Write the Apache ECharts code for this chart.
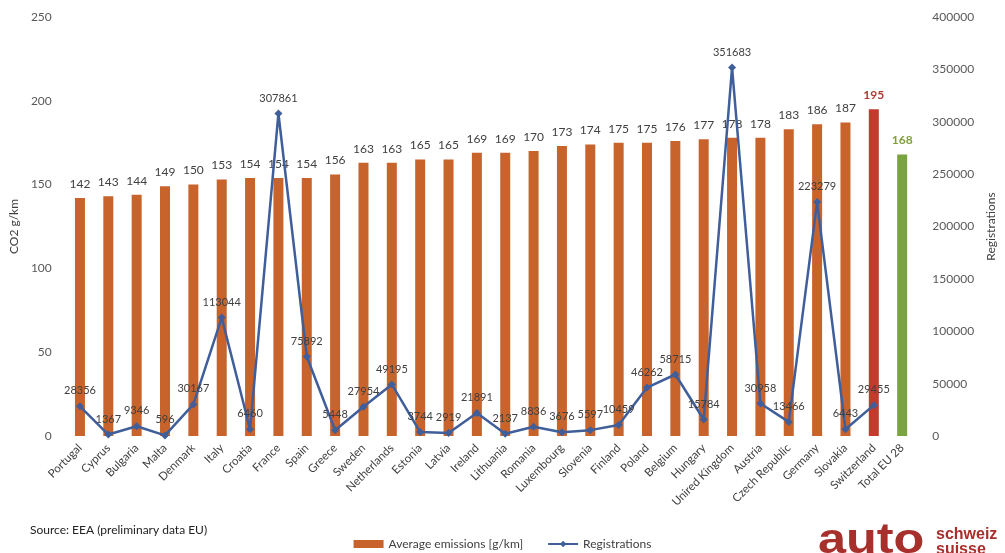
<!DOCTYPE html>
<html>
<head>
<meta charset="utf-8">
<script src="https://cdn.jsdelivr.net/npm/echarts@6/dist/echarts.min.js"></script>
<style>
  html, body { margin: 0; padding: 0; background: #fff; overflow: hidden; }
  #chart { width: 1005px; height: 553px; }
</style>
</head>
<body>
<div id="chart"></div>
<script>
// Countries, EU-28 plus Switzerland and the EU total
const countries = ['Portugal', 'Cyprus', 'Bulgaria', 'Malta', 'Denmark', 'Italy', 'Croatia', 'France', 'Spain', 'Greece',
  'Sweden', 'Netherlands', 'Estonia', 'Latvia', 'Ireland', 'Lithuania', 'Romania', 'Luxembourg', 'Slovenia', 'Finland',
  'Poland', 'Belgium', 'Hungary', 'Unired Kingdom', 'Austria', 'Czech Republic', 'Germany', 'Slovakia', 'Switzerland', 'Total EU 28'];

// Average CO2 emissions of new cars, g/km
const emissions = [142, 143, 144, 149, 150, 153, 154, 154, 154, 156,
  163, 163, 165, 165, 169, 169, 170, 173, 174, 175,
  175, 176, 177, 178, 178, 183, 186, 187, 195, 168];

// New car registrations (no figure for the EU total)
const registrations = [28356, 1367, 9346, 596, 30167, 113044, 6460, 307861, 75892, 5448,
  27954, 49195, 3744, 2919, 21891, 2137, 8836, 3676, 5597, 10459,
  46262, 58715, 15784, 351683, 30958, 13466, 223279, 6443, 29455, null];

const co2Ticks = { min: 0, max: 250, interval: 50 };
const regTicks = { min: 0, max: 400000, interval: 50000 };

const barColor = '#C8632C';
const swissColor = '#C23B2C';
const euColor = '#7BA440';
const lineColor = '#3F5E9A';
const textColor = '#404040';
const font = 'Lato, "Open Sans", sans-serif';

const barData = emissions.map((v, i) => {
  const name = countries[i];
  if (name === 'Switzerland') {
    return { value: v, itemStyle: { color: swissColor },
      label: { color: '#B23A33', fontWeight: 'bold' } };
  }
  if (name === 'Total EU 28') {
    return { value: v, itemStyle: { color: euColor },
      label: { color: '#7F9F3A', fontWeight: 'bold' } };
  }
  return { value: v };
});

const chart = echarts.init(document.getElementById('chart'), null, { renderer: 'canvas' });

chart.setOption({
  backgroundColor: '#ffffff',
  animation: false,
  textStyle: { fontFamily: font },
  grid: { left: 60, right: 77, top: 17, bottom: 117 },
  legend: {
    bottom: -2,
    left: 'center',
    itemGap: 24,
    itemWidth: 30,
    itemHeight: 8,
    textStyle: { color: textColor, fontSize: 12, fontFamily: font },
    data: [
      { name: 'Average emissions [g/km]', icon: 'rect' },
      { name: 'Registrations' }
    ]
  },
  xAxis: {
    type: 'category',
    data: countries,
    axisLine: { show: false },
    axisTick: { show: false },
    axisLabel: {
      rotate: 45,
      interval: 0,
      color: textColor,
      fontSize: 11.5,
      fontFamily: font,
      margin: 10
    }
  },
  yAxis: [
    {
      type: 'value',
      name: 'CO2 g/km',
      nameLocation: 'middle',
      nameGap: 38,
      nameRotate: 90,
      nameTextStyle: { color: textColor, fontSize: 12, fontFamily: font },
      min: co2Ticks.min, max: co2Ticks.max, interval: co2Ticks.interval,
      splitLine: { show: false },
      axisLine: { show: false },
      axisTick: { show: false },
      axisLabel: { color: '#595959', fontSize: 12, fontFamily: font, margin: 14 }
    },
    {
      type: 'value',
      name: 'Registrations',
      nameLocation: 'middle',
      nameGap: 55,
      nameRotate: 90,
      nameTextStyle: { color: textColor, fontSize: 12, fontFamily: font },
      min: regTicks.min, max: regTicks.max, interval: regTicks.interval,
      splitLine: { show: false },
      axisLine: { show: false },
      axisTick: { show: false },
      axisLabel: {
        color: '#595959', fontSize: 12, fontFamily: font, margin: 16,
        formatter: v => String(v)
      }
    }
  ],
  series: [
    {
      name: 'Average emissions [g/km]',
      type: 'bar',
      yAxisIndex: 0,
      barWidth: 10,
      itemStyle: { color: barColor },
      label: {
        show: true,
        position: 'top',
        distance: 8,
        color: textColor,
        fontSize: 12,
        fontFamily: font
      },
      data: barData,
      z: 2
    },
    {
      name: 'Registrations',
      type: 'line',
      yAxisIndex: 1,
      symbol: 'diamond',
      symbolSize: 8,
      connectNulls: false,
      lineStyle: { color: lineColor, width: 2.5 },
      itemStyle: { color: lineColor },
      label: {
        show: true,
        position: 'top',
        distance: 6,
        color: textColor,
        fontSize: 11,
        fontFamily: font
      },
      data: registrations,
      z: 3
    }
  ],
  graphic: [
    {
      type: 'text',
      left: 30,
      top: 524,
      style: {
        text: 'Source: EEA (preliminary data EU)',
        fill: '#222222',
        font: '12px ' + font
      }
    },
    {
      type: 'text',
      x: 818,
      y: 520,
      scaleX: 1.2,
      style: {
        text: 'auto',
        fill: '#A8302C',
        font: 'bold 42px "Liberation Sans", Arial, sans-serif'
      }
    },
    {
      type: 'text',
      left: 936,
      top: 527,
      style: {
        text: 'schweiz',
        fill: '#A8302C',
        font: 'bold 16px "Liberation Sans", Arial, sans-serif'
      }
    },
    {
      type: 'text',
      left: 936,
      top: 542,
      style: {
        text: 'suisse',
        fill: '#A8302C',
        font: 'bold 16px "Liberation Sans", Arial, sans-serif'
      }
    }
  ]
});
</script>
</body>
</html>
